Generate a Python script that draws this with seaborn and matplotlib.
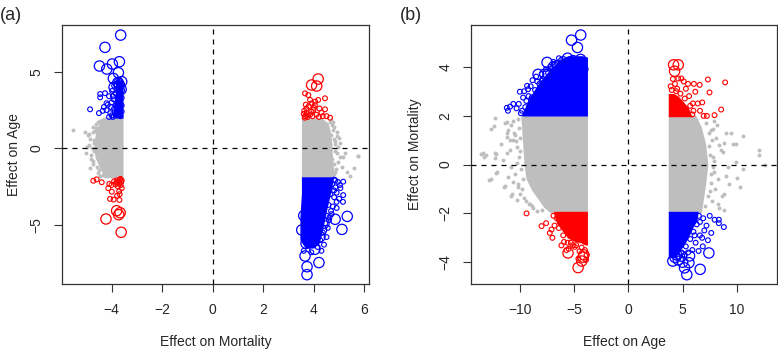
import numpy as np
import seaborn as sns
import matplotlib.pyplot as plt

# ---------------- panel (a): x = effect on mortality, y = effect on age ----------------
# dense cores (outlines)
a_gray_core_left_x = [-3.56, -4.3, -4.5, -4.6, -4.65, -4.6, -4.5, -4.35, -4.25, -3.56]
a_gray_core_left_y = [1.95, 1.95, 1.4, 0.8, 0.0, -0.6, -1.0, -1.5, -1.9, -1.9]
a_gray_core_right_x = [3.56, 4.3, 4.55, 4.65, 4.7, 4.72, 4.75, 4.8, 3.56]
a_gray_core_right_y = [1.9, 1.9, 1.6, 1.0, 0.3, -0.5, -1.2, -1.9, -1.9]
a_blue_core_x = [3.56, 4.75, 4.7, 4.6, 4.5, 4.4, 4.3, 4.2, 4.0, 3.7, 3.5, 3.5, 3.56]
a_blue_core_y = [-1.95, -1.95, -2.6, -3.3, -4.0, -4.8, -5.6, -6.2, -6.5, -6.5, -6.0, -4.5, -3.0]
a_blue_core2_x = [-3.56, -3.56, -3.62, -3.75, -3.85, -3.9]
a_blue_core2_y = [2.0, 4.2, 4.4, 4.2, 3.0, 2.0]

a_gray_x = [-5.51, -5.05, -4.95, -4.85, -4.9, -5.0, -4.85, -4.72, -4.8, -4.75, -4.6, -4.45,
            -4.55, -4.45, -4.9, -4.65, -4.7, -4.4, -4.35, -4.78, -4.82, -4.98, -4.7, -4.72,
            -4.75, -4.62, -4.58, -4.5, -4.68, -4.4, -4.52, -4.38,
            5.73, 5.43, 5.23, 4.94, 5.0, 4.9, 5.1, 4.95, 5.3, 4.85, 4.8, 4.9, 5.05, 4.75,
            5.15, 4.85, 5.6, 4.9, 5.03, 5.76, 4.78, 4.82, 4.75, 4.8, 4.85, 4.7, 4.62, 4.68,
            4.88, 4.79, 4.72, 4.66]
a_gray_y = [1.2, 1.09, 0.85, 0.6, 0.2, -0.3, -1.31, -1.0, -0.7, 1.4, 1.6, 1.8,
            -1.6, -1.8, 0.95, 1.15, -0.2, 1.7, -1.75, 0.05, -0.45, 0.1, 0.55, -0.85,
            1.05, 1.3, -1.2, -1.4, 0.35, 1.55, 1.7, 1.85,
            -0.48, -1.81, -0.33, 0.1, 0.7, 1.09, -1.2, -0.9, -1.55, -1.55, 1.4, -0.3, 0.35, 1.7,
            -0.6, 0.45, -1.3, 0.8, -0.59, -0.5, -1.0, 0.25, 1.2, -1.7, -0.15, 1.5, 1.75, 0.9,
            -1.35, 0.6, -0.7, 1.85]

a_blue_x = [-4.85, -4.45, -4.45, -4.26, -4.5, -4.3, -4.2, -4.15, -4.35, -4.0, -3.95, -3.9,
            -3.8, -3.7, -3.65, -3.75, -3.6, -3.7, -3.85, -3.65, -3.6, -3.72, -3.85, -3.62,
            -3.78, -4.05, -3.95, -3.6, -3.7, -3.9, -3.65, -3.82, -3.66, -3.58, -4.1,
            -4.0, -4.02, -3.98, -4.1, -3.92, -3.88, -4.2,
            5.16, 5.03, 5.16, 4.9, 4.85, 4.95, 5.05, 4.8, 5.15, 4.9, 4.75, 4.7, 4.6, 4.55,
            4.5, 4.4, 4.3, 3.9, 3.6, 4.85, 5.0, 4.8, 4.72, 4.65, 4.58, 4.5, 4.45, 4.35,
            4.25, 4.15, 4.8, 4.9, 4.68, 4.62]
a_blue_y = [2.55, 3.55, 3.33, 3.6, 2.3, 2.7, 2.5, 2.85, 2.45, 3.0, 3.4, 2.6,
            3.9, 4.2, 3.6, 3.2, 2.8, 2.4, 2.2, 2.1, 3.3, 3.0, 3.6, 4.0,
            4.4, 2.3, 2.05, 2.4, 3.7, 4.1, 4.4, 2.8, 2.6, 3.8, 3.4,
            2.15, 2.7, 3.75, 2.05, 3.2, 2.35, 2.95,
            -2.18, -2.4, -3.06, -2.9, -2.1, -2.2, -2.6, -3.2, -3.5, -3.5, -3.8, -4.3, -4.7, -5.2,
            -5.8, -6.3, -6.7, -6.8, -6.7, -2.55, -3.3, -2.75, -2.35, -3.0, -3.7, -4.4, -4.9,
            -5.5, -6.0, -6.45, -2.05, -3.9, -4.1, -4.5]
a_red_x = [-4.72, -4.59, -4.39, -4.13, -4.0, -3.8, -3.7, -3.65, -3.75, -3.85, -3.6, -3.7,
           -3.78, -4.06, -3.92, -3.69, -3.62, -3.9, -3.68, -4.09, -3.99, -3.6, -3.64,
           -3.72, -3.8, -3.66,
           3.65, 3.78, 3.85, 3.91, 4.04, 3.98, 4.17, 4.44, 4.22, 4.3, 4.44, 4.64, 3.72, 3.65,
           3.85, 3.7, 3.62, 3.95, 4.1, 4.5, 3.8, 3.68, 4.05, 4.35, 3.75, 4.2, 3.6, 3.64,
           3.9, 3.72, 4.0]
a_red_y = [-2.12, -2.03, -2.22, -2.61, -2.4, -2.1, -2.3, -2.0, -2.5, -2.35, -2.6, -2.8,
           -3.1, -3.31, -3.35, -3.38, -2.2, -2.15, -3.0, -2.33, -2.84, -2.1, -2.4,
           -2.15, -2.25, -2.05,
           3.59, 3.48, 3.16, 2.94, 2.83, 2.5, 3.16, 3.27, 2.6, 2.33, 2.55, 2.0, 2.3, 2.1,
           2.2, 2.6, 2.45, 2.1, 2.2, 2.1, 2.75, 2.85, 3.05, 2.1, 2.05, 2.05, 2.25, 2.0,
           2.4, 2.15, 2.65]

a_blue_big_x = [-3.64, -4.26, -4.48, -4.19, -3.97, -3.69, -3.73, -3.93, -3.69, -3.9, -3.6,
                -3.75, -3.62,
                4.84, 5.32, 5.11, 4.2, 3.73, 3.73, 3.65, 4.04, 3.98, 4.24, 3.69, 3.52, 4.3,
                3.92, 3.8, 4.1, 3.6, 4.4]
a_blue_big_y = [7.4, 6.6, 5.38, 5.18, 5.51, 5.66, 4.94, 4.57, 4.14, 4.0, 4.36,
                4.3, 3.85,
                -4.64, -4.45, -5.3, -7.47, -8.26, -7.74, -7.04, -6.6, -5.56, -5.78, -6.21, -5.34, -5.34,
                -6.0, -4.9, -5.0, -4.4, -4.9]
a_red_big_x = [-4.22, -3.62, -3.8, -3.66, -3.72, 4.17, 3.91, 4.11]
a_red_big_y = [-4.62, -5.49, -4.08, -4.21, -4.34, 4.53, 4.14, 4.07]

# ---------------- panel (b): x = effect on age, y = effect on mortality ----------------
b_gray_core_left_x = [-3.8, -9.8, -9.7, -9.6, -9.5, -9.3, -8.8, -7.7, -7.1, -3.8]
b_gray_core_left_y = [1.97, 1.97, 1.4, 0.7, 0.0, -0.6, -1.05, -1.74, -1.97, -1.97]
b_gray_core_right_x = [3.8, 6.2, 6.7, 7.1, 7.3, 7.1, 6.9, 6.7, 3.8]
b_gray_core_right_y = [1.97, 1.97, 1.5, 0.8, 0.0, -0.8, -1.4, -1.97, -1.97]
b_blue_core_left_x = [-3.8, -3.8, -4.2, -5.5, -6.0, -6.8, -7.6, -8.3, -9.1, -9.7]
b_blue_core_left_y = [2.0, 4.35, 4.4, 4.4, 4.3, 4.0, 3.6, 3.2, 2.63, 2.0]
b_blue_core_right_x = [3.8, 6.4, 6.3, 5.9, 5.5, 5.1, 4.7, 4.3, 3.8]
b_blue_core_right_y = [-1.97, -1.97, -2.3, -2.6, -3.0, -3.3, -3.55, -3.8, -3.8]
b_red_core_left_x = [-3.8, -6.8, -6.5, -6.0, -5.5, -4.8, -4.2, -3.8]
b_red_core_left_y = [-1.97, -1.97, -2.4, -2.7, -3.0, -3.15, -3.2, -3.3]
b_red_core_right_x = [3.8, 5.8, 5.5, 5.0, 4.6, 4.2, 3.8]
b_red_core_right_y = [1.97, 1.97, 2.3, 2.55, 2.75, 2.85, 2.85]

b_gray_x = [-13.56, -13.26, -12.2, -12.3, -12.8, -12.2, -12.65, -12.4, -12.3, -11.4, -11.45,
            -11.1, -10.7, -10.3, -11.7, -11.2, -10.9, -11.55, -10.8, -10.5, -10.65,
            -10.18, -10.6, -10.9, -9.2, -8.8, -11.2, -11.07, -10.8, -11.2, -10.6, -13.4,
            -13.1, -12.3, -11.2, -12.1, -12.7, -11.4, -10.8, -8.9, -10.2, -10.1, -10.0,
            -10.3, -10.1, -9.9, -10.4, -10.2, -9.8, -10.0, -9.6, -9.4, -9.1, -8.4, -8.0,
            -10.45, -10.25, -9.95, -9.75, -10.35,
            12.08, 12.08, 12.6, 10.6, 10.6, 10.0, 9.47, 9.0, 9.93, 9.6, 9.93, 9.17, 9.0,
            8.86, 8.4, 8.55, 8.2, 7.9, 8.0, 8.3, 7.8, 8.1, 7.7, 8.6, 7.6, 8.8, 9.3, 10.3,
            7.9, 7.78, 8.34, 8.7, 8.77, 8.25, 7.5, 7.6, 7.7, 7.55, 7.4, 7.2, 7.8, 7.45,
            7.65, 7.35, 7.9, 7.1]
b_gray_y = [0.45, 0.31, 0.45, 0.25, -0.64, -0.36, 1.47, 1.57, 1.9, 1.7, -0.9,
            -0.5, -1.2, -1.46, 0.86, 1.13, 0.59, 0.18, -0.1, 1.3, 1.8,
            -0.9, -0.7, 1.0, -1.6, -1.8, 1.75, 1.41, 1.6, 1.28, 1.0, 0.48,
            0.38, 0.48, 0.48, -0.3, -0.58, -0.89, -1.3, -1.7, 1.85, 1.5, 1.1,
            0.7, 0.3, -0.2, -0.4, -0.8, -1.0, -1.2, -1.35, -1.5, -1.6, -1.9, -1.85,
            1.2, 0.05, 0.55, -0.6, 0.95,
            0.59, 0.38, 0.0, 1.16, -0.2, -0.57, 1.3, 1.3, 0.86, 0.86, 0.1, -0.1, -0.45,
            -1.87, -1.8, 0.6, 1.6, 1.8, -1.0, -0.6, 0.3, 1.1, -1.5, -1.3, 1.4, 0.9, -0.8, -0.9,
            -0.3, 1.47, 0.78, 0.5, -1.19, -1.6, 0.4, -0.4, 1.0, -1.1, 1.3, 1.7, -0.1, 0.75,
            -0.75, -1.3, 0.15, -1.7]

b_blue_x = [-11.2, -10.9, -10.6, -10.0, -9.33, -9.24, -8.83, -10.1, -9.7, -10.3, -11.1,
            -9.6, -9.2, -9.0, -8.5, -8.2, -9.8, -8.0, -7.6, -7.2, -6.9, -6.4, -9.4,
            -9.9, -9.5, -8.9, -8.6, -8.4, -7.9, -7.4, -7.0, -6.6,
            8.8, 8.34, 8.34, 7.95, 7.64, 7.33, 6.86, 6.47, 7.2, 6.9, 7.0, 6.6, 6.2, 5.9,
            5.5, 7.5, 6.8, 5.2, 6.5, 6.3, 6.0, 5.7, 5.3, 4.9, 4.6, 6.6, 6.1]
b_blue_y = [2.32, 2.37, 2.48, 2.98, 3.22, 3.08, 3.45, 2.48, 2.74, 2.3, 2.2,
            3.0, 2.8, 3.2, 3.6, 3.3, 2.2, 3.7, 3.9, 4.0, 4.2, 4.35, 2.6,
            2.1, 2.35, 2.75, 3.05, 3.4, 3.5, 3.75, 3.95, 4.15,
            -2.56, -2.26, -2.4, -2.26, -2.8, -3.1, -3.35, -3.54, -2.5, -2.2, -2.7, -2.9, -3.2, -3.5,
            -3.6, -2.1, -3.0, -3.7, -2.1, -2.45, -2.75, -3.05, -3.35, -3.6, -3.85, -2.35, -2.9]
b_red_x = [-9.38, -8.0, -7.58, -7.08, -7.0, -7.24, -6.17, -5.93, -5.7, -4.93, -4.0, -4.0,
           -3.85, -4.5, -4.8, -5.3, -5.5, -6.6, -6.8, -6.9, -6.4, -6.0, -5.6, -5.1, -4.3,
           -4.6, -3.9,
           8.92, 7.33, 7.48, 6.57, 6.04, 6.17, 6.81, 6.4, 5.95, 8.55, 7.94, 7.24, 6.94,
           4.88, 4.6, 5.1, 4.3, 4.1, 5.3, 5.6, 6.0, 6.6, 5.5, 4.5, 3.9, 5.9, 5.7, 5.2,
           4.8, 4.4, 4.0]
b_red_y = [-2.0, -2.52, -2.4, -2.66, -3.0, -2.8, -3.31, -3.17, -3.5, -3.37, -3.17, -3.5,
           -3.7, -3.55, -3.3, -3.2, -3.45, -2.2, -2.5, -2.1, -2.6, -2.9, -3.2, -3.3, -3.4,
           -3.85, -3.9,
           3.36, 3.48, 2.95, 3.26, 3.3, 2.98, 2.54, 2.5, 2.5, 2.25, 2.02, 1.99, 1.99,
           3.52, 3.52, 3.4, 3.3, 3.5, 3.1, 2.8, 2.2, 2.2, 3.3, 3.1, 3.2, 2.05, 2.4, 2.7,
           2.9, 3.0, 3.05]

b_blue_big_x = [-4.39, -5.24, -4.69, -7.49, -8.32, -7.4, -6.57, -7.7, -6.0, -5.6, -4.4,
                -4.2, -5.1, -6.3, -6.9,
                7.42, 6.62, 5.58, 5.39, 5.18, 5.64, 4.3, 4.6, 4.9, 4.1, 5.0, 4.45]
b_blue_big_y = [5.3, 5.09, 4.79, 4.18, 3.69, 3.7, 4.04, 3.7, 4.2, 4.35, 4.3,
                3.9, 4.25, 3.85, 4.0,
                -3.62, -4.29, -4.02, -4.51, -4.23, -3.74, -3.8, -3.9, -3.75, -3.95, -4.0, -3.7]
b_red_big_x = [-5.56, -4.63, -4.18, -4.1, -4.3, 4.17, 4.6, 4.26]
b_red_big_y = [-3.62, -4.22, -3.79, -3.7, -3.95, 4.08, 4.08, 3.82]

GRAY = '#BEBEBE'
BLUE = '#0000FF'
RED = '#FF0000'

sns.set_style('ticks')
plt.rcParams['font.family'] = ['Liberation Sans', 'DejaVu Sans']

fig = plt.figure(figsize=(7.78, 3.49), dpi=100)
ax_a = fig.add_axes([62 / 778, 65 / 349, 307 / 778, 259 / 349])
ax_b = fig.add_axes([471 / 778, 65 / 349, 306 / 778, 259 / 349])


def draw_cores(ax, cores):
    for xs, ys, col in cores:
        ax.fill(xs, ys, color=col, lw=1.2, ec=col, zorder=1)


def draw_points(ax, gx, gy, bx, by, rx, ry, bbx, bby, rbx, rby):
    sns.scatterplot(x=gx, y=gy, ax=ax, color=GRAY, s=8, linewidth=0, zorder=2)
    sns.scatterplot(x=bx, y=by, ax=ax, facecolor='none', edgecolor=BLUE, s=12, linewidth=0.8, zorder=3)
    sns.scatterplot(x=rx, y=ry, ax=ax, facecolor='none', edgecolor=RED, s=12, linewidth=0.8, zorder=3)
    sns.scatterplot(x=bbx, y=bby, ax=ax, facecolor='none', edgecolor=BLUE, s=55, linewidth=0.9, zorder=4)
    sns.scatterplot(x=rbx, y=rby, ax=ax, facecolor='none', edgecolor=RED, s=55, linewidth=0.9, zorder=4)


draw_cores(ax_a, [(a_gray_core_left_x, a_gray_core_left_y, GRAY),
                  (a_gray_core_right_x, a_gray_core_right_y, GRAY),
                  (a_blue_core_x, a_blue_core_y, BLUE),
                  (a_blue_core2_x, a_blue_core2_y, BLUE)])
draw_points(ax_a, a_gray_x, a_gray_y, a_blue_x, a_blue_y, a_red_x, a_red_y,
            a_blue_big_x, a_blue_big_y, a_red_big_x, a_red_big_y)

draw_cores(ax_b, [(b_gray_core_left_x, b_gray_core_left_y, GRAY),
                  (b_gray_core_right_x, b_gray_core_right_y, GRAY),
                  (b_blue_core_left_x, b_blue_core_left_y, BLUE),
                  (b_blue_core_right_x, b_blue_core_right_y, BLUE),
                  (b_red_core_left_x, b_red_core_left_y, RED),
                  (b_red_core_right_x, b_red_core_right_y, RED)])
draw_points(ax_b, b_gray_x, b_gray_y, b_blue_x, b_blue_y, b_red_x, b_red_y,
            b_blue_big_x, b_blue_big_y, b_red_big_x, b_red_big_y)

ax_a.set_xlim(-5.96, 6.18)
ax_a.set_ylim(-8.87, 8.06)
ax_a.set_xticks([-4, -2, 0, 2, 4, 6])
ax_a.set_yticks([-5, 0, 5])
ax_a.set_xlabel('Effect on Mortality', fontsize=10)
ax_a.set_ylabel('Effect on Age', fontsize=10)
ax_a.xaxis.set_label_coords(0.5, (284 - 342) / 259)
ax_a.yaxis.set_label_coords((14 - 62) / 307, 0.5)

ax_b.set_xlim(-14.5, 13.7)
ax_b.set_ylim(-4.89, 5.71)
ax_b.set_xticks([-10, -5, 0, 5, 10])
ax_b.set_yticks([-4, -2, 0, 2, 4])
ax_b.set_xlabel('Effect on Age', fontsize=10)
ax_b.set_ylabel('Effect on Mortality', fontsize=10)
ax_b.xaxis.set_label_coords(0.5, (284 - 342) / 259)
ax_b.yaxis.set_label_coords((415 - 471) / 306, 0.5)

for ax in (ax_a, ax_b):
    ax.xaxis.label.set_va('center')
    ax.yaxis.label.set_va('center')
    ax.axvline(0, color='black', lw=0.9, ls=(0, (4, 4)), zorder=5)
    ax.axhline(0, color='black', lw=0.9, ls=(0, (4, 4)), zorder=5)
    for sp in ax.spines.values():
        sp.set_visible(True)
        sp.set_color('#333333')
        sp.set_linewidth(0.9)
    ax.tick_params(axis='both', length=5.5, width=0.8, color='#333333', labelsize=10, pad=8)
    ax.tick_params(axis='y', labelrotation=90)
    for lab in ax.get_yticklabels():
        lab.set_va('center')

fig.text(0.0, 1 - 15 / 349, '(a)', fontsize=13, va='center', ha='left')
fig.text(400 / 778, 1 - 15 / 349, '(b)', fontsize=13, va='center', ha='left')

fig.savefig('out.png', dpi=100)
